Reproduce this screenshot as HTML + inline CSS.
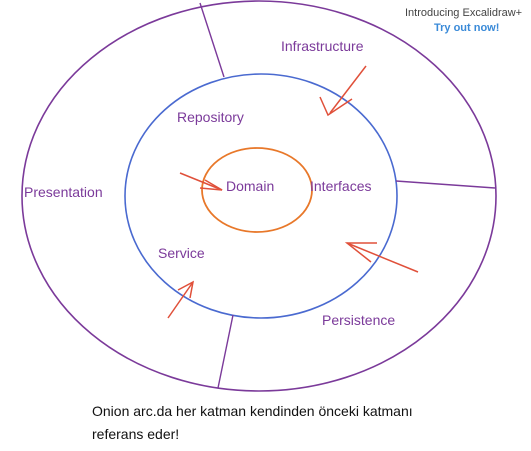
<!DOCTYPE html>
<html><head><style>
body{margin:0;background:#fff;width:531px;height:446px;overflow:hidden;}
svg text{font-family:"Liberation Sans",sans-serif;}
</style></head><body>
<svg width="531" height="446" viewBox="0 0 531 446">
<defs><marker id="a" markerWidth="10" markerHeight="10" refX="9" refY="5" orient="auto" markerUnits="userSpaceOnUse"><path d="M0,0 L9,5 L0,10" fill="none" stroke="#e0503a" stroke-width="1.5"/></marker></defs>
<ellipse cx="259" cy="196" rx="237" ry="195" fill="none" stroke="#7b3a9a" stroke-width="1.6"/>
<ellipse cx="261" cy="196" rx="136" ry="122" fill="none" stroke="#4a6ad0" stroke-width="1.6"/>
<ellipse cx="257" cy="190" rx="55" ry="42" fill="none" stroke="#e8782a" stroke-width="1.8"/>
<g stroke="#7b3a9a" stroke-width="1.4">
<line x1="200" y1="3" x2="224" y2="77"/>
<line x1="396" y1="181" x2="495" y2="188"/>
<line x1="233" y1="315" x2="218" y2="388"/>
</g>
<g stroke="#e0503a" stroke-width="1.5" fill="none">
<line x1="366" y1="66" x2="330" y2="113"/><path d="M320,97 L328,115 L352,99"/>
<line x1="180" y1="173" x2="222" y2="190"/><path d="M205,180 L222,190 L200,188"/>
<line x1="418" y1="272" x2="347" y2="243"/><path d="M377,243 L347,243 L371,262"/>
<line x1="168" y1="318" x2="193" y2="282"/><path d="M178,290 L193,282 L190,298"/>
</g>
<g fill="#7b3a9a" font-size="14">
<text x="281" y="51">Infrastructure</text>
<text x="177" y="122">Repository</text>
<text x="24" y="197">Presentation</text>
<text x="226" y="191">Domain</text>
<text x="310" y="191">Interfaces</text>
<text x="158" y="258">Service</text>
<text x="322" y="325">Persistence</text>
</g>
<text x="405" y="16" font-size="11" fill="#444">Introducing Excalidraw+</text>
<text x="434" y="31" font-size="11" fill="#3a8ad8" font-weight="bold">Try out now!</text>
<g fill="#111" font-size="14">
<text x="92" y="416">Onion arc.da her katman kendinden önceki katmanı</text>
<text x="92" y="439">referans eder!</text>
</g>
</svg>
</body></html>
